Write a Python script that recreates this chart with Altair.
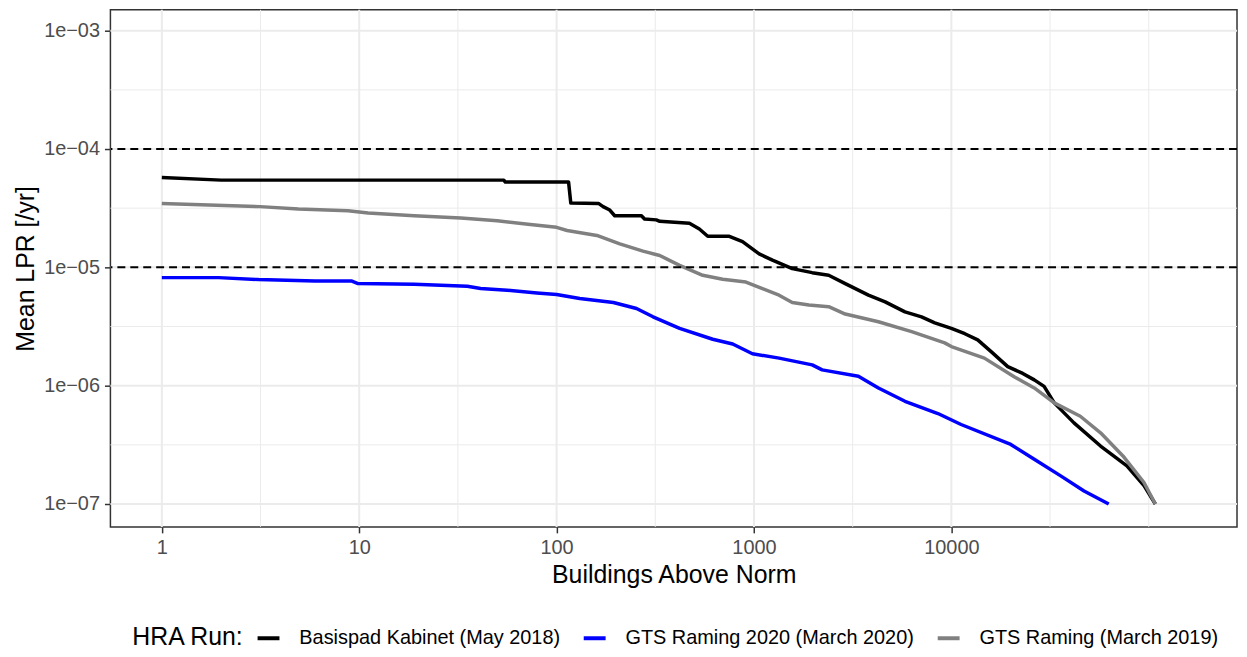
import altair as alt
import pandas as pd

# ---- data ----
series_names = ["Basispad Kabinet (May 2018)", "GTS Raming 2020 (March 2020)", "GTS Raming (March 2019)"]
series_colors = ["#000000", "#0000FF", "#808080"]

basispad_x = [1, 2, 54, 55, 115, 118, 163, 172, 186, 197, 269, 279, 320, 333, 471, 529, 583, 750, 875,
              1062, 1240, 1563, 1972, 2390, 2900, 3800, 4620, 5820, 7060, 8240, 10000, 11700, 13600,
              15900, 19300, 23000, 26300, 29500, 33200, 41800, 57000, 77500, 94600, 108000]
basispad_y = [5.74e-5, 5.46e-5, 5.46e-5, 5.26e-5, 5.26e-5, 3.50e-5, 3.47e-5, 3.26e-5, 3.05e-5, 2.73e-5,
              2.73e-5, 2.56e-5, 2.52e-5, 2.45e-5, 2.36e-5, 2.11e-5, 1.83e-5, 1.83e-5, 1.65e-5,
              1.30e-5, 1.15e-5, 9.75e-6, 9.02e-6, 8.57e-6, 7.29e-6, 5.82e-6, 5.11e-6, 4.21e-6, 3.82e-6,
              3.40e-6, 3.05e-6, 2.75e-6, 2.44e-6, 1.94e-6, 1.45e-6, 1.27e-6, 1.12e-6, 9.86e-7, 7.16e-7,
              4.85e-7, 3.09e-7, 2.10e-7, 1.43e-7, 1.0e-7]

gts2020_x = [1, 1.94, 3.09, 5.97, 9.12, 9.86, 19, 35.3, 41.2, 56.2, 79.5, 100, 131, 194, 254, 308, 420,
             618, 780, 982, 1340, 1972, 2215, 3380, 4270, 5820, 8550, 11200, 20000, 26300, 35800,
             47000, 62700]
gts2020_y = [8.19e-6, 8.19e-6, 7.88e-6, 7.67e-6, 7.67e-6, 7.29e-6, 7.2e-6, 6.92e-6, 6.62e-6, 6.41e-6,
             6.08e-6, 5.9e-6, 5.46e-6, 5.05e-6, 4.49e-6, 3.82e-6, 3.05e-6, 2.47e-6, 2.25e-6, 1.86e-6,
             1.71e-6, 1.50e-6, 1.36e-6, 1.20e-6, 9.57e-7, 7.38e-7, 5.82e-7, 4.70e-7, 3.19e-7, 2.39e-7,
             1.73e-7, 1.29e-7, 1.0e-7]

gts2019_x = [1, 3.15, 4.92, 8.78, 11.1, 19, 32.7, 50, 73.6, 100, 113, 160, 209, 274, 333, 420, 550,
             694, 910, 1104, 1340, 1563, 1897, 2390, 2900, 4270, 6290, 9250, 10000, 14700,
             20800, 26300, 33200, 45000, 57000, 74000, 94600, 108000]
gts2019_y = [3.47e-5, 3.26e-5, 3.11e-5, 3.01e-5, 2.88e-5, 2.73e-5, 2.61e-5, 2.48e-5, 2.30e-5, 2.18e-5,
             2.05e-5, 1.86e-5, 1.58e-5, 1.37e-5, 1.26e-5, 1.04e-5, 8.57e-6, 7.93e-6, 7.52e-6, 6.62e-6,
             5.82e-6, 5.05e-6, 4.80e-6, 4.65e-6, 4.03e-6, 3.47e-6, 2.86e-6, 2.30e-6, 2.14e-6, 1.71e-6,
             1.19e-6, 9.57e-7, 7.16e-7, 5.52e-7, 4.0e-7, 2.55e-7, 1.52e-7, 1.0e-7]

x_major = [1, 10, 100, 1000, 10000]
x_minor = [3.1623, 31.623, 316.23, 3162.3, 31623, 100000]
y_major = [1e-3, 1e-4, 1e-5, 1e-6, 1e-7]
y_minor = [3.1623e-4, 3.1623e-5, 3.1623e-6, 3.1623e-7]
norm_lines = [1e-4, 1e-5]

rows = []
for name, xs, ys in zip(series_names, [basispad_x, gts2020_x, gts2019_x], [basispad_y, gts2020_y, gts2019_y]):
    for i, (xv, yv) in enumerate(zip(xs, ys)):
        rows.append({"run": name, "buildings": xv, "lpr": yv, "i": i})
df = pd.DataFrame(rows)

FONT = "Liberation Sans"
x_scale = alt.Scale(type="log", domain=[0.549, 280000], nice=False)
y_scale = alt.Scale(type="log", domain=[6.41e-8, 1.501e-3], nice=False)

x_axis = alt.Axis(values=x_major, format="d", title="Buildings Above Norm", grid=False, domain=False,
                  tickSize=6, tickWidth=1.5, tickColor="#333333",
                  labelFont=FONT, labelFontSize=20, labelColor="#4D4D4D", labelPadding=5,
                  labelFlush=False, labelOverlap=False,
                  titleFont=FONT, titleFontSize=25, titleFontWeight="normal", titleColor="#000000",
                  titlePadding=5)
y_axis = alt.Axis(values=y_major, labelExpr="'1e\u22120' + round(-log(datum.value)/LN10)",
                  title="Mean LPR [/yr]", grid=False, domain=False,
                  tickSize=6, tickWidth=1.5, tickColor="#333333",
                  labelFont=FONT, labelFontSize=20, labelColor="#4D4D4D", labelPadding=5,
                  labelFlush=False, labelOverlap=False,
                  titleFont=FONT, titleFontSize=25, titleFontWeight="normal", titleColor="#000000",
                  titlePadding=5)

gx_major = alt.Chart(pd.DataFrame({"v": x_major})).mark_rule(color="#EBEBEB", strokeWidth=2).encode(
    x=alt.X("v:Q", scale=x_scale, axis=x_axis))
gx_minor = alt.Chart(pd.DataFrame({"v": x_minor})).mark_rule(color="#EBEBEB", strokeWidth=1).encode(
    x=alt.X("v:Q", scale=x_scale, axis=x_axis))
gy_major = alt.Chart(pd.DataFrame({"v": y_major})).mark_rule(color="#EBEBEB", strokeWidth=2).encode(
    y=alt.Y("v:Q", scale=y_scale, axis=y_axis))
gy_minor = alt.Chart(pd.DataFrame({"v": y_minor})).mark_rule(color="#EBEBEB", strokeWidth=1).encode(
    y=alt.Y("v:Q", scale=y_scale, axis=y_axis))

lines = alt.Chart(df).mark_line(strokeWidth=3.5, strokeJoin="round").encode(
    x=alt.X("buildings:Q", scale=x_scale, axis=x_axis),
    y=alt.Y("lpr:Q", scale=y_scale, axis=y_axis),
    color=alt.Color("run:N", scale=alt.Scale(domain=series_names, range=series_colors),
                    legend=alt.Legend(title="HRA Run:", orient="none", legendX=22, legendY=619,
                                      direction="horizontal", titleOrient="left",
                                      symbolType="stroke", symbolStrokeWidth=4, symbolSize=484,
                                      labelFont=FONT, labelFontSize=20, labelColor="#000000",
                                      titleFont=FONT, titleFontSize=25, titleFontWeight="normal",
                                      titleColor="#000000", labelOffset=18, columnPadding=15,
                                      titlePadding=11, labelLimit=500)),
    order=alt.Order("i:Q"),
)

hlines = alt.Chart(pd.DataFrame({"v": norm_lines})).mark_rule(
    color="#000000", strokeWidth=2, strokeDash=[8, 5]).encode(
    y=alt.Y("v:Q", scale=y_scale, axis=y_axis))

chart = alt.layer(gx_minor, gy_minor, gx_major, gy_major, lines, hlines).properties(
    width=1133, height=520,
    autosize=alt.AutoSizeParams(type="none"),
    padding={"left": 103, "top": 0, "right": 2, "bottom": 125},
).configure_view(stroke="#333333", strokeWidth=1.5)

chart.save("out.html", embed_options={"renderer": "svg", "actions": False})
